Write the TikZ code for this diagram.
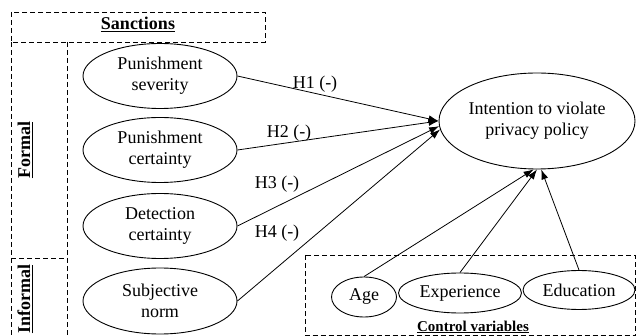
\documentclass[tikz,border=0pt]{standalone}
\usepackage{fontspec}
\setmainfont{Liberation Serif}
\usetikzlibrary{shapes.geometric,arrows.meta}
\begin{document}
\begin{tikzpicture}[x=1pt,y=-1pt,
  every node/.style={font=\fontsize{18}{21}\selectfont, inner sep=0pt},
  var/.style={draw, ellipse, line width=0.9pt, align=center},
  dbox/.style={draw, dashed, dash pattern=on 5pt off 3pt, line width=0.8pt},
  arr/.style={line width=0.8pt, -{Latex[length=10pt,width=7pt]}},
  ttl/.style={font=\bfseries\fontsize{18}{21}\selectfont},
  hyp/.style={font=\fontsize{18}{21}\selectfont}]
\useasboundingbox (0,0) rectangle (636,336);
% dashed frames
\draw[dbox] (11,12) rectangle (265,42);
\draw[dbox] (11,42) -- (11,336);
\draw[dbox] (67,42) -- (67,336);
\draw[dbox] (11,258) -- (67,258);
\draw[dbox] (305,255) rectangle (635.5,335.5);
% titles
\node[ttl, anchor=base] (sanc) at (138,30) {\underline{Sanctions}};
\node[ttl, rotate=90] (formal) at (25,150) {\underline{Formal}};
\node[ttl, rotate=90] (informal) at (25,299) {\underline{Informal}};
\node[font=\bfseries\fontsize{15}{18}\selectfont, anchor=base] (ctrl) at (473,331) {\underline{Control variables}};
% variables
\node[var, minimum width=154pt, minimum height=65pt] (ps) at (160,76) {Punishment\\severity};
\node[var, minimum width=154pt, minimum height=65pt] (pc) at (160,150) {Punishment\\certainty};
\node[var, minimum width=154pt, minimum height=65pt] (dc) at (160,226) {Detection\\certainty};
\node[var, minimum width=154pt, minimum height=66pt] (sn) at (160,301) {Subjective\\norm};
\node[var, minimum width=196pt, minimum height=96pt] (int) at (537,121) {Intention to violate\\privacy policy};
\node[var, minimum width=65pt, minimum height=40pt] (age) at (364,297) {Age};
\node[var, minimum width=123pt, minimum height=40pt] (exp) at (460,293) {Experience};
\node[var, minimum width=112pt, minimum height=39pt] (edu) at (579,290) {Education};
% hypotheses
\draw[arr] (ps.east) -- (int.west);
\draw[arr] (pc.east) -- (int.west);
\draw[arr] (dc.east) -- (int.183);
\draw[arr] (sn.east) -- (int.185);
\node[hyp] (h1) at (315,84) {H1 (-)};
\node[hyp] (h2) at (289,133) {H2 (-)};
\node[hyp] (h3) at (277,184) {H3 (-)};
\node[hyp] (h4) at (277,233) {H4 (-)};
% controls
\draw[arr] (age.north) -- (int.266);
\draw[arr] (exp.north) -- (int.270);
\draw[arr] (edu.north) -- (int.275);
\end{tikzpicture}
\end{document}
